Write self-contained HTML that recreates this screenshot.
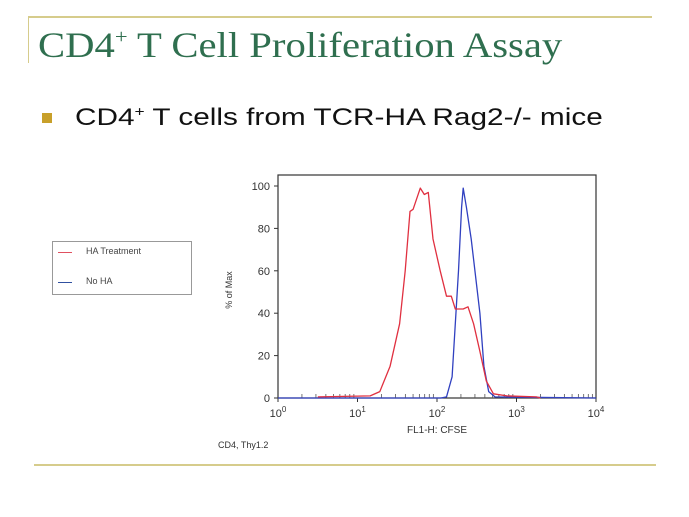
<!DOCTYPE html>
<html><head><meta charset="utf-8"><style>
body{margin:0;width:689px;height:517px;background:#fff;position:relative;overflow:hidden;font-family:"Liberation Sans",sans-serif}
.abs{position:absolute}
</style></head><body>
<div class="abs" style="left:28px;top:16px;width:624px;height:2px;background:#d6cc8c"></div>
<div class="abs" style="left:28px;top:16px;width:1px;height:47px;background:#d6cc8c"></div>
<div class="abs" style="left:38px;top:24px;font-family:'Liberation Serif',serif;font-size:36px;color:#2f6f4f;white-space:nowrap;transform:scaleX(1.13);transform-origin:0 0">CD4<sup style="font-size:20px;vertical-align:14px;line-height:0">+</sup> T Cell Proliferation Assay</div>
<div class="abs" style="left:42px;top:113px;width:10px;height:10px;background:#c8a02a"></div>
<div class="abs" style="left:75px;top:104px;font-size:24px;color:#111;white-space:nowrap;transform:scaleX(1.24);transform-origin:0 0">CD4<sup style="font-size:14px;vertical-align:9px;line-height:0">+</sup> T cells from TCR-HA Rag2-/- mice</div>
<div class="abs" style="left:34px;top:464px;width:622px;height:2px;background:#d6cc8c"></div>

<div class="abs" style="left:52px;top:241px;width:138px;height:52px;border:1px solid #999;background:#fff">
 <div class="abs" style="left:5px;top:10px;width:14px;height:0;border-top:1.5px solid #e05060"></div>
 <div class="abs" style="left:33px;top:4px;font-size:9px;color:#444;white-space:nowrap">HA Treatment</div>
 <div class="abs" style="left:5px;top:40px;width:14px;height:0;border-top:1.5px solid #3050a0"></div>
 <div class="abs" style="left:33px;top:34px;font-size:9px;color:#444;white-space:nowrap">No HA</div>
</div>

<svg class="abs" style="left:0;top:0" width="689" height="517">
<g id="axes"></g><g id="series"></g>
</svg>
<script>
const xTicks=[0,1,2,3,4];
const yTicks=[0,20,40,60,80,100];
const redLog=[0.5,1.16,1.28,1.41,1.53,1.60,1.66,1.70,1.79,1.84,1.89,1.95,2.04,2.12,2.18,2.23,2.33,2.39,2.46,2.54,2.62,2.71,2.88,3.25,3.3];
const redVal=[0.5,1,3,15,35,60,88,89,99,96,97,75,60,48,48,42,42,43,35,22,8,2,1,0.5,0];
const blueLog=[0,2.05,2.12,2.19,2.27,2.31,2.33,2.37,2.43,2.54,2.59,2.65,2.73,4];
const blueVal=[0,0,0.5,10,60,90,99,90,75,40,15,3,0.5,0];
const X0=278,X1=596,Y0=398,YT=175,Y100=186;
const sx=v=>X0+(X1-X0)*v/4;
const sy=v=>Y0-(Y0-Y100)*v/100;
const NS="http://www.w3.org/2000/svg";
const ax=document.getElementById('axes'),se=document.getElementById('series');
function mk(p,t,a){const e=document.createElementNS(NS,t);for(const k in a)e.setAttribute(k,a[k]);p.appendChild(e);return e;}
const box=mk(ax,'rect',{x:X0,y:YT,width:X1-X0,height:Y0-YT,fill:'none',stroke:'#333','stroke-width':1.2});


yTicks.forEach(v=>{
 const l=mk(ax,'line',{x1:X0-4,x2:X0,y1:sy(v),y2:sy(v),stroke:'#333'});
 
 
 const t=mk(ax,'text',{x:X0-8,y:sy(v)+4,'font-size':11,'text-anchor':'end',fill:'#333'});t.textContent=v;
 
 
});
xTicks.forEach(d=>{
 const l=mk(ax,'line',{x1:sx(d),x2:sx(d),y1:Y0,y2:Y0+4,stroke:'#333'});
 
 
 if(d<4)for(let m=2;m<10;m++){const xx=sx(d+Math.log10(m));const mt=mk(ax,'line',{x1:xx,x2:xx,y1:Y0,y2:Y0-4,stroke:'#555','stroke-width':0.8});
 
 }
 const t=mk(ax,'text',{x:sx(d),y:Y0+19,'font-size':11,'text-anchor':'middle',fill:'#333'});
 t.innerHTML='10<tspan dy="-5" font-size="8">'+d+'</tspan>';
 
 
});
const xt=mk(ax,'text',{x:437,y:433,'font-size':10,'text-anchor':'middle',fill:'#333'});xt.textContent='FL1-H: CFSE';


const yt=mk(ax,'text',{x:0,y:0,'font-size':9,'text-anchor':'middle',fill:'#333',transform:'translate(232,290) rotate(-90)'});yt.textContent='% of Max';


const ft=mk(ax,'text',{x:218,y:448,'font-size':9,fill:'#333'});ft.textContent='CD4, Thy1.2';


function path(L,V,c,n){
 const d=L.map((l,i)=>(i?'L':'M')+sx(l).toFixed(1)+','+sy(V[i]).toFixed(1)).join('');
 const p=mk(se,'path',{d:d,fill:'none',stroke:c,'stroke-width':1.3,'stroke-linejoin':'round'});
 
 
}
path(blueLog,blueVal,'#3040c0','no-ha-line');
path(redLog,redVal,'#e03040','ha-treatment-line');
</script>
</body></html>
